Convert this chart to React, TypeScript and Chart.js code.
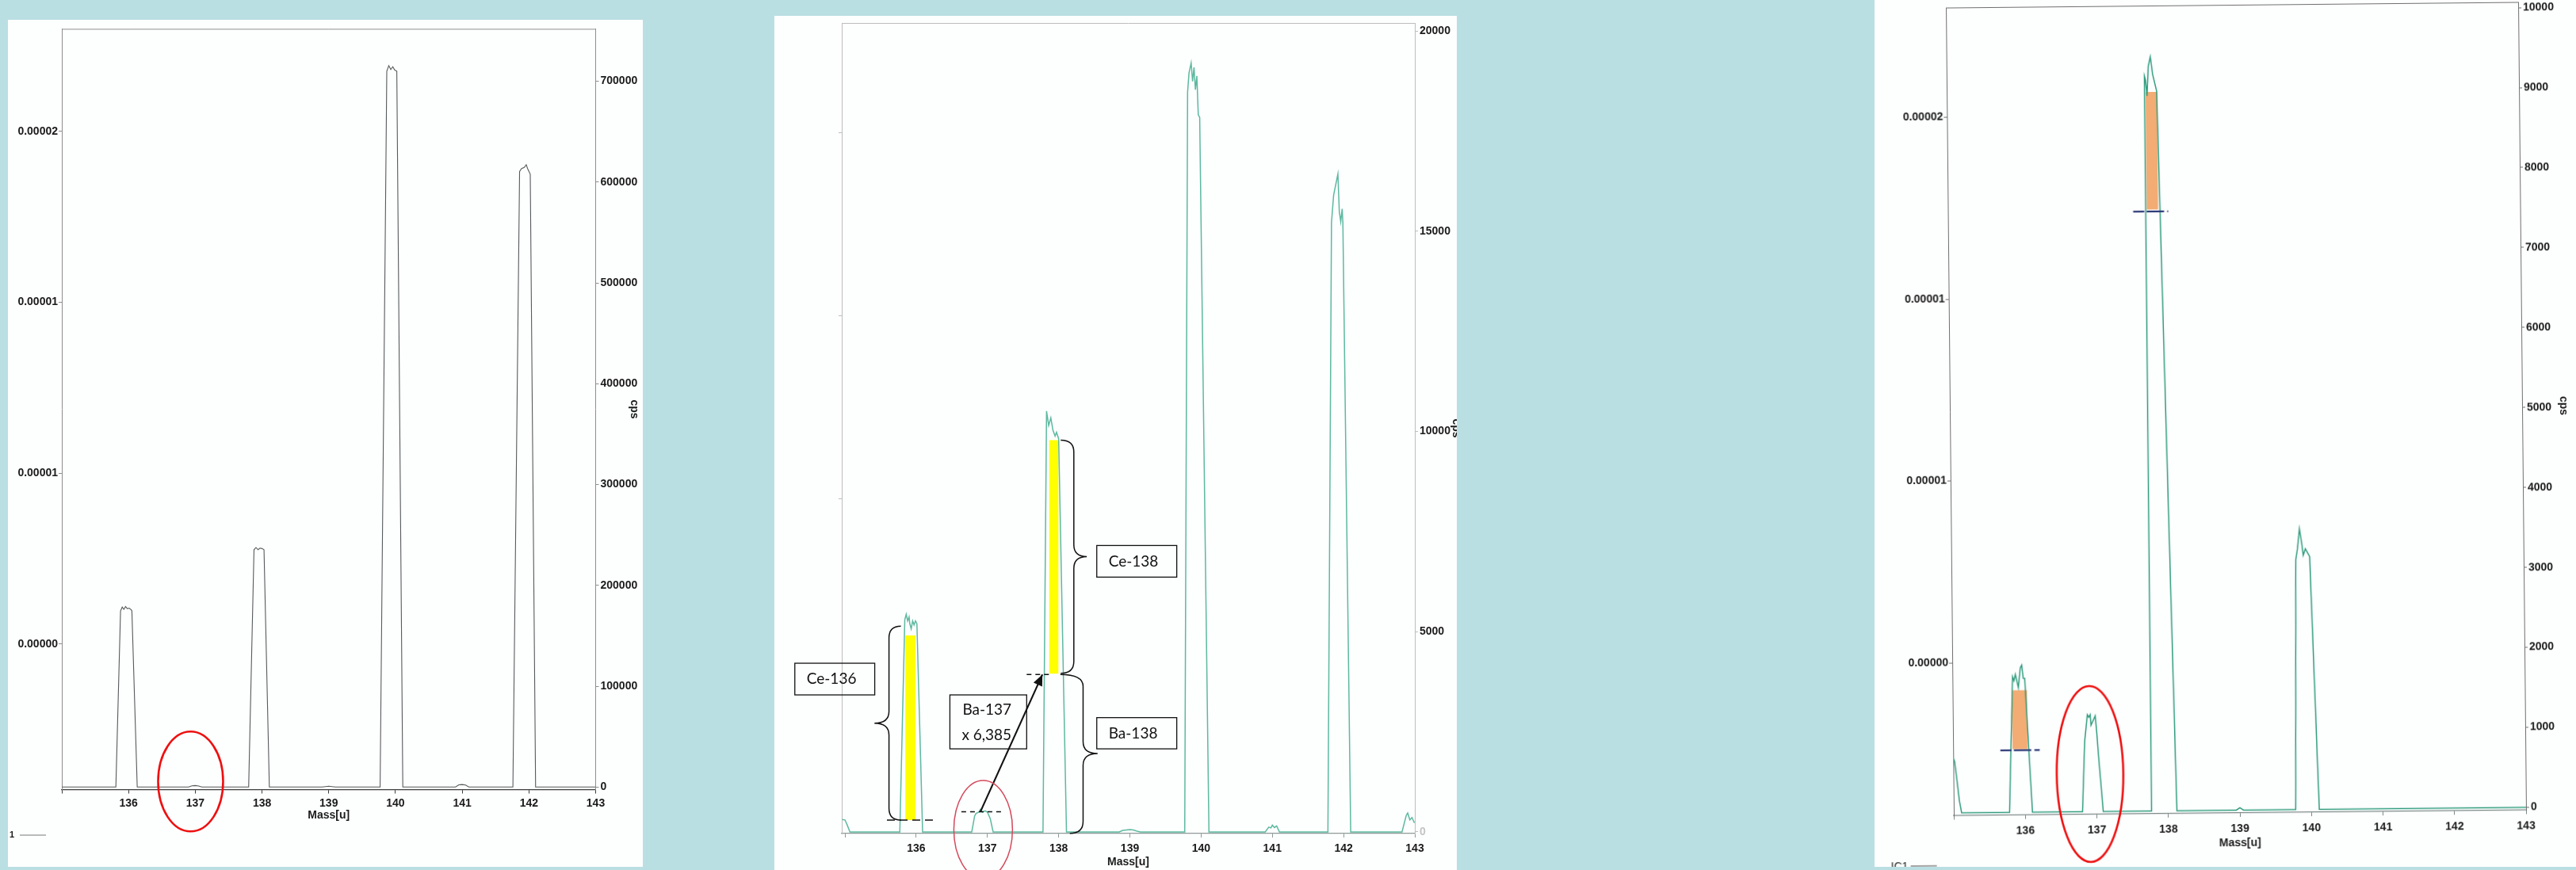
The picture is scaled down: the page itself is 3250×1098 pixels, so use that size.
import React, { useEffect, useRef } from 'react';
import { Chart, registerables } from 'chart.js';

Chart.register(...registerables);

// ---------------- data ----------------
const massTicks = [135, 136, 137, 138, 139, 140, 141, 142, 143];
const massTickLabels = ['', '136', '137', '138', '139', '140', '141', '142', '143'];
const ratioTicks = [0.000005, 0.00001, 0.000015, 0.00002];
const ratioTickLabels = ['0.00000', '0.00001', '0.00001', '0.00002'];
const cpsTicks1 = [0, 100000, 200000, 300000, 400000, 500000, 600000, 700000];
const cpsTicks2 = [0, 5000, 10000, 15000, 20000];
const cpsTicks3 = [0, 1000, 2000, 3000, 4000, 5000, 6000, 7000, 8000, 9000, 10000];

// panel 1 (gray trace)
const mass1 = [135.0, 135.5, 135.81, 135.88, 135.905, 135.93, 135.955, 135.98, 136.01, 136.04, 136.05, 136.13, 136.5, 136.9, 136.95, 137.0, 137.05, 137.1, 137.5, 137.8, 137.88, 137.91, 137.94, 137.97, 138.0, 138.03, 138.11, 138.5, 138.9, 139.0, 139.1, 139.5, 139.77, 139.87, 139.9, 139.93, 139.96, 139.99, 140.02, 140.11, 140.5, 140.9, 140.95, 141.0, 141.05, 141.1, 141.5, 141.76, 141.86, 141.89, 141.93, 141.96, 141.98, 142.02, 142.1, 142.5, 143.0];
const cps1 = [0, 0, 0, 174700, 178500, 176300, 179100, 177000, 177400, 175800, 174700, 0, 0, 0, 1200, 1500, 1000, 0, 0, 0, 235400, 237600, 235400, 237000, 236500, 235400, 0, 0, 0, 800, 0, 0, 0, 710000, 715500, 711600, 714400, 711000, 710000, 0, 0, 0, 2200, 2500, 2000, 0, 0, 0, 610600, 613400, 614500, 617200, 613400, 607900, 0, 0, 0];

// panel 2 (teal trace)
const mass2 = [134.96, 135.0, 135.03, 135.07, 135.5, 135.77, 135.84, 135.86, 135.88, 135.9, 135.91, 135.93, 135.95, 135.97, 135.99, 136.01, 136.09, 136.5, 136.78, 136.82, 136.84, 136.88, 136.9, 136.93, 136.97, 137.0, 137.04, 137.08, 137.5, 137.78, 137.83, 137.86, 137.89, 137.92, 137.95, 137.97, 138.0, 138.11, 138.85, 138.9, 139.0, 139.05, 139.1, 139.15, 139.77, 139.81, 139.83, 139.86, 139.88, 139.9, 139.92, 139.94, 139.96, 139.98, 140.11, 140.9, 140.95, 140.98, 141.0, 141.03, 141.06, 141.1, 141.78, 141.83, 141.86, 141.92, 141.94, 141.96, 141.98, 141.99, 142.1, 142.82, 142.88, 142.9, 142.93, 142.96, 142.99, 143.0];
const cps2 = [310, 300, 180, 0, 0, 0, 5300, 5434, 5270, 5368, 5203, 5072, 5270, 5170, 5270, 5200, 0, 0, 0, 395, 461, 494, 560, 494, 527, 494, 330, 0, 0, 0, 10510, 10150, 10340, 10030, 9885, 9980, 9820, 0, 0, 40, 60, 50, 20, 0, 0, 18470, 18950, 19200, 18740, 19090, 18535, 18880, 17910, 17840, 0, 0, 120, 100, 170, 110, 150, 0, 0, 15215, 15900, 16430, 15490, 15240, 15560, 15215, 0, 0, 415, 474, 300, 360, 240, 240];

// panel 3 (teal trace)
const mass3 = [135.0, 135.02, 135.05, 135.08, 135.11, 135.5, 135.78, 135.84, 135.86, 135.88, 135.92, 135.95, 135.97, 135.99, 136.01, 136.1, 136.5, 136.8, 136.84, 136.88, 136.9, 136.92, 136.93, 136.99, 137.01, 137.04, 137.09, 137.5, 137.76, 137.765, 137.78, 137.8, 137.82, 137.85, 137.88, 137.935, 138.12, 138.5, 138.95, 139.0, 139.05, 139.5, 139.78, 139.815, 139.84, 139.87, 139.9, 139.92, 139.95, 140.01, 140.11, 140.5, 141.0, 142.0, 143.0];
const cps3 = [690, 640, 400, 150, 0, 0, 0, 1695, 1645, 1724, 1560, 1807, 1840, 1675, 1675, 0, 0, 0, 882, 1212, 1179, 1212, 1080, 1196, 981, 595, 0, 0, 0, 9190, 9140, 8940, 9310, 9430, 9210, 9000, 0, 0, 0, 30, 0, 0, 0, 3124, 3260, 3510, 3330, 3180, 3260, 3160, 0, 0, 0, 0, 0];

// annotations, in data units (mass, cps)
const yellowBars2 = [
  { m0: 135.848, m1: 135.989, c0: 296, c1: 4907 },
  { m0: 137.868, m1: 137.996, c0: 3953, c1: 9783 },
];
const dashLines2 = [
  { m0: 135.589, m1: 136.256, c: 296, dash: [10, 6] },
  { m0: 136.634, m1: 137.245, c: 504, dash: [6, 5] },
  { m0: 137.551, m1: 137.876, c: 3933, dash: [6, 5] },
];
const braces2 = [
  { endTop: 135.785, endBot: 135.785, spine: 135.618, tip: 135.414, cTop: 5138, cBot: 296, cTip: 2713 },
  { endTop: 138.029, endBot: 138.029, spine: 138.213, tip: 138.395, cTop: 9781, cBot: 3962, cTip: 6876 },
  { endTop: 138.024, endBot: 138.157, spine: 138.343, tip: 138.547, cTop: 3932, cBot: -34, cTip: 1956 },
];
const boxes2 = [
  { lines: ['Ce-136'], m0: 134.296, m1: 135.418, c0: 4213, c1: 3422 },
  { lines: ['Ba-137', 'x 6,385'], m0: 136.473, m1: 137.551, c0: 3422, c1: 2075 },
  { lines: ['Ce-138'], m0: 138.535, m1: 139.658, c0: 7153, c1: 6363 },
  { lines: ['Ba-138'], m0: 138.535, m1: 139.658, c0: 2855, c1: 2075 },
];
const arrow2 = { m0: 136.901, c0: 504, m1: 137.772, c1: 3932 };
const circle1 = { m: 136.93, c: 5500 };
const circle2 = { m: 136.94, c: 60 };
const circle3 = { m: 136.91, c: 470 };
const orangeBars3 = [
  { m0: 135.83, m1: 136.04, c0: 790, c1: 1526 },
  { m0: 137.78, m1: 137.94, c0: 7520, c1: 8990 },
];
const blueLines3 = [
  { m0: 135.66, m1: 136.21, c: 776 },
  { m0: 137.59, m1: 138.08, c: 7495 },
];

// ---------------- rendering ----------------
const PAGE_W = 3250;
const PAGE_H = 1098;
const OFF = 40;
const FONT = "'Liberation Sans', Arial, sans-serif";
const TEXT = '#1b1b1b';

const zip = (m: number[], c: number[]) => m.map((v, i) => ({ x: v, y: c[i] }));
const X = (ch: any, m: number) => ch.scales.x.getPixelForValue(m);
const Y = (ch: any, c: number) => ch.scales.y.getPixelForValue(c);

function drawBrace(ctx: CanvasRenderingContext2D, xeT: number, xeB: number, xs: number, xt: number, yT: number, yB: number, yTip: number, r: number) {
  ctx.beginPath();
  ctx.moveTo(xeT, yT);
  ctx.quadraticCurveTo(xs, yT, xs, yT + r);
  ctx.lineTo(xs, yTip - r);
  ctx.quadraticCurveTo(xs, yTip, xt, yTip);
  ctx.quadraticCurveTo(xs, yTip, xs, yTip + r);
  ctx.lineTo(xs, yB - r);
  ctx.quadraticCurveTo(xs, yB, xeB, yB);
  ctx.stroke();
}

function ellipse(ctx: CanvasRenderingContext2D, x: number, y: number, rx: number, ry: number, color: string, w: number) {
  ctx.save();
  ctx.strokeStyle = color;
  ctx.lineWidth = w;
  ctx.beginPath();
  ctx.ellipse(x, y, rx, ry, 0, 0, Math.PI * 2);
  ctx.stroke();
  ctx.restore();
}

function decorate1(ch: any) {
  const ctx = ch.ctx as CanvasRenderingContext2D;
  const a = ch.chartArea;
  ellipse(ctx, X(ch, circle1.m), Y(ch, circle1.c), 41, 63, '#ee1010', 2.6);
  ctx.save();
  ctx.fillStyle = TEXT;
  ctx.font = `bold 11px ${FONT}`;
  ctx.textBaseline = 'middle';
  ctx.fillText('1', a.left - 66, a.bottom + 57);
  ctx.strokeStyle = '#777';
  ctx.lineWidth = 1;
  ctx.beginPath();
  ctx.moveTo(a.left - 53, a.bottom + 57.5);
  ctx.lineTo(a.left - 20, a.bottom + 57.5);
  ctx.stroke();
  ctx.restore();
}

function under2(ch: any) {
  const ctx = ch.ctx as CanvasRenderingContext2D;
  ctx.save();
  ctx.fillStyle = '#ffff00';
  yellowBars2.forEach(b => {
    const x0 = X(ch, b.m0), x1 = X(ch, b.m1), y0 = Y(ch, b.c1), y1 = Y(ch, b.c0);
    ctx.fillRect(x0, y0, x1 - x0, y1 - y0);
  });
  ctx.restore();
}

function decorate2(ch: any) {
  const ctx = ch.ctx as CanvasRenderingContext2D;
  ctx.save();
  ctx.strokeStyle = '#111';
  ctx.lineWidth = 1.5;
  dashLines2.forEach(d => {
    ctx.setLineDash(d.dash);
    ctx.beginPath();
    ctx.moveTo(X(ch, d.m0), Y(ch, d.c));
    ctx.lineTo(X(ch, d.m1), Y(ch, d.c));
    ctx.stroke();
  });
  ctx.setLineDash([]);
  braces2.forEach(b => drawBrace(ctx, X(ch, b.endTop), X(ch, b.endBot), X(ch, b.spine), X(ch, b.tip), Y(ch, b.cTop), Y(ch, b.cBot), Y(ch, b.cTip), 15));
  ctx.lineWidth = 1.3;
  ctx.font = '19px Lato, "Open Sans", sans-serif';
  ctx.textBaseline = 'middle';
  ctx.fillStyle = '#111';
  boxes2.forEach(b => {
    const x0 = X(ch, b.m0), x1 = X(ch, b.m1), y0 = Y(ch, b.c0), y1 = Y(ch, b.c1);
    ctx.strokeRect(x0, y0, x1 - x0, y1 - y0);
    const cy = (y0 + y1) / 2;
    if (b.lines.length === 1) ctx.fillText(b.lines[0], x0 + 15, cy);
    else {
      ctx.fillText(b.lines[0], x0 + 16, cy - 15);
      ctx.fillText(b.lines[1], x0 + 15, cy + 17);
    }
  });
  // arrow
  const ax0 = X(ch, arrow2.m0), ay0 = Y(ch, arrow2.c0), ax1 = X(ch, arrow2.m1), ay1 = Y(ch, arrow2.c1);
  ctx.lineWidth = 2;
  ctx.beginPath();
  ctx.moveTo(ax0, ay0);
  ctx.lineTo(ax1, ay1);
  ctx.stroke();
  const ang = Math.atan2(ay1 - ay0, ax1 - ax0);
  const L = 14, W = 6;
  const bx = ax1 - L * Math.cos(ang), by = ay1 - L * Math.sin(ang);
  ctx.beginPath();
  ctx.moveTo(ax1, ay1);
  ctx.lineTo(bx - W * Math.sin(ang), by + W * Math.cos(ang));
  ctx.lineTo(bx + W * Math.sin(ang), by - W * Math.cos(ang));
  ctx.closePath();
  ctx.fill();
  ctx.restore();
  ellipse(ctx, X(ch, circle2.m), Y(ch, circle2.c), 37, 62, '#d4495c', 1.5);
}

function under3(ch: any) {
  const ctx = ch.ctx as CanvasRenderingContext2D;
  ctx.save();
  ctx.fillStyle = 'rgba(240,158,92,0.85)';
  orangeBars3.forEach(b => {
    const x0 = X(ch, b.m0), x1 = X(ch, b.m1), y0 = Y(ch, b.c1), y1 = Y(ch, b.c0);
    ctx.fillRect(x0, y0, x1 - x0, y1 - y0);
  });
  ctx.restore();
}

function decorate3(ch: any) {
  const ctx = ch.ctx as CanvasRenderingContext2D;
  const a = ch.chartArea;
  ctx.save();
  ctx.strokeStyle = '#2d3a78';
  ctx.lineWidth = 2.2;
  ctx.setLineDash([14, 3, 22, 4]);
  blueLines3.forEach(l => {
    ctx.beginPath();
    ctx.moveTo(X(ch, l.m0), Y(ch, l.c));
    ctx.lineTo(X(ch, l.m1), Y(ch, l.c));
    ctx.stroke();
  });
  ctx.setLineDash([]);
  ctx.fillStyle = TEXT;
  ctx.font = `14px ${FONT}`;
  ctx.textBaseline = 'middle';
  ctx.fillText('IC1', a.left - 80, a.bottom + 64);
  ctx.strokeStyle = '#888';
  ctx.lineWidth = 1.5;
  ctx.beginPath();
  ctx.moveTo(a.left - 55, a.bottom + 63);
  ctx.lineTo(a.left - 22, a.bottom + 63);
  ctx.stroke();
  ctx.restore();
  ellipse(ctx, X(ch, circle3.m), Y(ch, circle3.c), 42, 111, '#ee1010', 2.6);
}

type Spec = {
  paper: { left: number; top: number; width: number; height: number };
  area: { left: number; right: number; top: number; bottom: number };
  wL: number; wR: number; hX: number;
  xMin: number; xMax: number; yMin: number; yMax: number; rMin: number; rMax: number;
  cpsTicks: number[]; mass: number[]; cps: number[];
  lineColor: string; lineWidth: number;
  axisColor: string; sideColor: string; fontSize: number; tickPadX: number;
  showLeft: boolean; zeroFaint?: boolean;
  rotate?: number; origin?: string;
  under?: (ch: any) => void; over?: (ch: any) => void;
};

function buildConfig(s: Spec): any {
  const font = { family: FONT, size: s.fontSize, weight: 'bold' as const };
  return {
    type: 'line',
    data: {
      datasets: [{
        data: zip(s.mass, s.cps),
        borderColor: s.lineColor,
        borderWidth: s.lineWidth,
        pointRadius: 0,
        tension: 0,
        fill: false,
        yAxisID: 'y',
        xAxisID: 'x',
      }],
    },
    options: {
      responsive: false,
      animation: false,
      devicePixelRatio: 1,
      parsing: false,
      layout: {
        padding: {
          left: s.area.left - s.wL,
          right: PAGE_W - s.area.right - s.wR,
          top: s.area.top + OFF,
          bottom: PAGE_H + 2 * OFF - (s.area.bottom + OFF) - s.hX,
        },
      },
      plugins: { legend: { display: false }, tooltip: { enabled: false } },
      scales: {
        x: {
          type: 'linear', position: 'bottom', min: s.xMin, max: s.xMax,
          afterBuildTicks: (sc: any) => { sc.ticks = massTicks.map(v => ({ value: v })); },
          afterFit: (sc: any) => { sc.height = s.hX; },
          grid: { drawOnChartArea: false, drawTicks: true, tickLength: 5, color: s.axisColor, lineWidth: 1 },
          border: { display: true, color: s.axisColor, width: 1.2 },
          ticks: { autoSkip: false, maxRotation: 0, minRotation: 0, padding: s.tickPadX, color: TEXT, font, callback: (_v: any, i: number) => massTickLabels[i] ?? '' },
          title: { display: true, text: 'Mass[u]', color: TEXT, font, padding: 0 },
        },
        yL: {
          type: 'linear', position: 'left', min: s.rMin, max: s.rMax,
          afterBuildTicks: (sc: any) => { sc.ticks = ratioTicks.map(v => ({ value: v })); },
          afterFit: (sc: any) => { sc.width = s.wL; },
          grid: { drawOnChartArea: false, drawTicks: true, tickLength: 4, color: s.sideColor },
          border: { display: true, color: s.sideColor, width: 1 },
          ticks: { autoSkip: false, padding: 1, color: TEXT, font, callback: (_v: any, i: number) => (s.showLeft ? ratioTickLabels[i] : '') },
        },
        y: {
          type: 'linear', position: 'right', min: s.yMin, max: s.yMax,
          afterBuildTicks: (sc: any) => { sc.ticks = s.cpsTicks.map(v => ({ value: v })); },
          afterFit: (sc: any) => { sc.width = s.wR; },
          grid: { drawOnChartArea: false, drawTicks: true, tickLength: 4, color: s.sideColor },
          border: { display: true, color: s.sideColor, width: 1 },
          ticks: {
            autoSkip: false, padding: 2, font,
            color: (c: any) => (s.zeroFaint && c.tick && c.tick.value === 0 ? '#c4c4c4' : TEXT),
            callback: (v: any) => String(v),
          },
          title: { display: true, text: 'cps', color: TEXT, font, padding: 0 },
        },
      },
    },
    plugins: [{
      id: 'deco',
      beforeDatasetsDraw(ch: any) { if (s.under) s.under(ch); },
      afterDatasetsDraw(ch: any) {
        const ctx = ch.ctx as CanvasRenderingContext2D;
        const a = ch.chartArea;
        ctx.save();
        ctx.strokeStyle = s.sideColor;
        ctx.lineWidth = 1;
        ctx.beginPath();
        ctx.moveTo(a.left, a.top + 0.5);
        ctx.lineTo(a.right, a.top + 0.5);
        ctx.stroke();
        ctx.restore();
        if (s.over) s.over(ch);
      },
    }],
  };
}

const panel1: Spec = {
  paper: { left: 10, top: 25, width: 801, height: 1069 },
  area: { left: 78, right: 751.5, top: 36.4, bottom: 996.5 },
  wL: 70, wR: 57, hX: 41.4,
  xMin: 135, xMax: 143, yMin: -2500, yMax: 752000, rMin: 7.42e-7, rMax: 2.3e-5,
  cpsTicks: cpsTicks1, mass: mass1, cps: cps1,
  lineColor: '#555a5a', lineWidth: 1.1,
  axisColor: '#3c3c3c', sideColor: '#8e8e8e', fontSize: 14, tickPadX: 4,
  showLeft: true, over: decorate1,
};

const panel2: Spec = {
  paper: { left: 977, top: 20, width: 861, height: 1090 },
  area: { left: 1062, right: 1785, top: 29, bottom: 1052 },
  wL: 70, wR: 60, hX: 44.4,
  xMin: 134.955, xMax: 143, yMin: -40, yMax: 20200, rMin: 8.66e-7, rMax: 2.3e-5,
  cpsTicks: cpsTicks2, mass: mass2, cps: cps2,
  lineColor: '#5db9a0', lineWidth: 1.5,
  axisColor: '#8f9a98', sideColor: '#bdbdbd', fontSize: 14, tickPadX: 6,
  showLeft: false, zeroFaint: true, under: under2, over: decorate2,
};

const panel3: Spec = {
  paper: { left: 2365, top: 0, width: 885, height: 1094 },
  area: { left: 2460, right: 3182, top: 6, bottom: 1026 },
  wL: 70, wR: 60, hX: 46.4,
  xMin: 135, xMax: 143, yMin: -35, yMax: 10070, rMin: 7.95e-7, rMax: 2.302e-5,
  cpsTicks: cpsTicks3, mass: mass3, cps: cps3,
  lineColor: '#2f9c7d', lineWidth: 1.5,
  axisColor: '#7d8a88', sideColor: '#6f6f6f', fontSize: 14, tickPadX: 7,
  showLeft: true, rotate: -0.56, origin: `2821px ${516 + OFF}px`,
  under: under3, over: decorate3,
};

function Panel({ spec }: { spec: Spec }) {
  const ref = useRef<HTMLCanvasElement>(null);
  useEffect(() => {
    if (!ref.current) return;
    const chart = new Chart(ref.current, buildConfig(spec));
    return () => chart.destroy();
  }, [spec]);
  const p = spec.paper;
  return (
    <div style={{ position: 'absolute', left: p.left, top: p.top, width: p.width, height: p.height, background: '#fdfefe', overflow: 'hidden' }}>
      <canvas
        ref={ref}
        width={PAGE_W}
        height={PAGE_H + 2 * OFF}
        style={{
          position: 'absolute', left: -p.left, top: -p.top - OFF,
          width: PAGE_W, height: PAGE_H + 2 * OFF,
          transform: spec.rotate ? `rotate(${spec.rotate}deg)` : undefined,
          transformOrigin: spec.origin,
        }}
      />
    </div>
  );
}

export default function App() {
  return (
    <div style={{ position: 'fixed', left: 0, top: 0, width: PAGE_W, height: PAGE_H, background: '#badfe3', overflow: 'hidden' }}>
      <Panel spec={panel1} />
      <Panel spec={panel2} />
      <Panel spec={panel3} />
    </div>
  );
}
